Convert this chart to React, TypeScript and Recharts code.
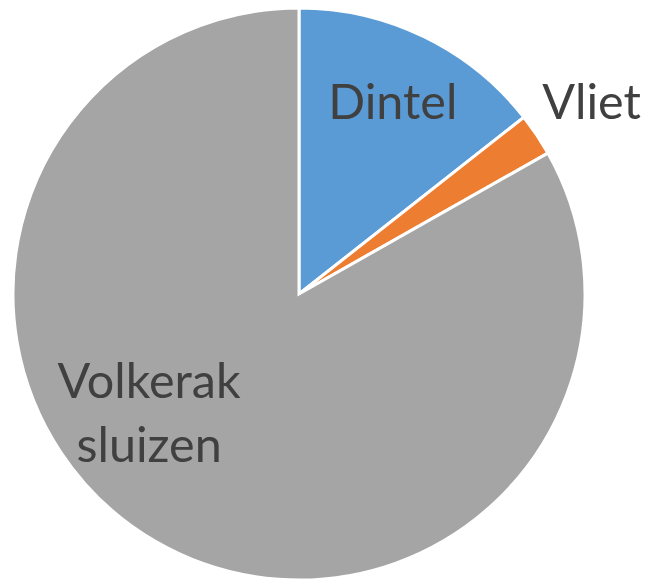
import React from "react";
import { PieChart, Pie, Cell } from "recharts";

const categories = ["Dintel", "Vliet", "Volkerak sluizen"];
const values = [14.4, 2.4, 83.2];
const labelLines = [["Dintel"], ["Vliet"], ["Volkerak", "sluizen"]];
const colors = ["#5B9BD5", "#ED7D31", "#A5A5A5"];
// label placement: radius factor (of outer radius) and angle offset from slice mid-angle
const labelRadius = [0.694, 1.193, 0.638];
const labelAngleOffset = [-2.3, -2.9, -25];

const data = categories.map((name, i) => ({ name, value: values[i] }));

const RAD = Math.PI / 180;

const renderLabel = (props: any) => {
  const { cx, cy, midAngle, outerRadius, index } = props;
  const a = (midAngle + labelAngleOffset[index]) * RAD;
  const r = outerRadius * labelRadius[index];
  const x = cx + r * Math.cos(a);
  const y = cy - r * Math.sin(a);
  return (
    <text
      key={`lbl-${index}`}
      x={x}
      y={y}
      textAnchor="middle"
      fill="#404040"
      fontFamily="Lato, 'Open Sans', sans-serif"
      fontSize={48.5}
    >
      {labelLines[index].map((line, j) => (
        <tspan key={j} x={x} dy={j === 0 ? 0 : 64}>
          {line}
        </tspan>
      ))}
    </text>
  );
};

export default function App() {
  return (
    <PieChart width={643} height={572} margin={{ top: 0, right: 0, bottom: 0, left: 0 }}>
      <Pie
        data={data}
        dataKey="value"
        nameKey="name"
        cx={291}
        cy={286}
        outerRadius={286}
        startAngle={90}
        endAngle={-270}
        stroke="#FFFFFF"
        strokeWidth={3}
        label={renderLabel}
        labelLine={false}
        isAnimationActive={false}
      >
        {data.map((d, i) => (
          <Cell key={d.name} fill={colors[i]} />
        ))}
      </Pie>
    </PieChart>
  );
}
